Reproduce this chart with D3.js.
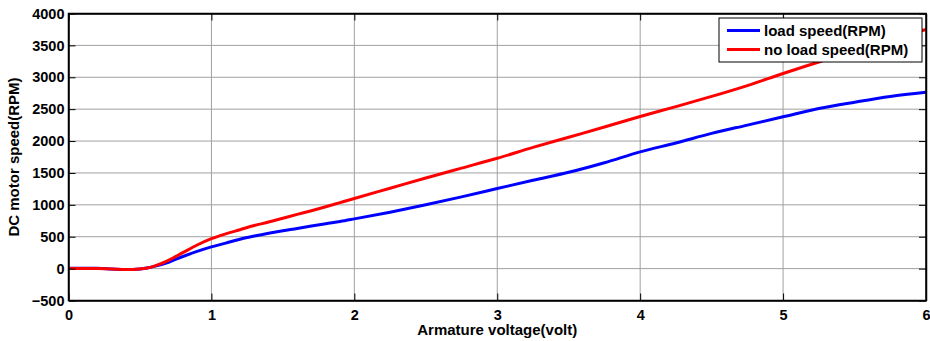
<!DOCTYPE html>
<html>
<head>
<meta charset="utf-8">
<script src="https://cdn.jsdelivr.net/npm/d3@7"></script>
<style>
  html, body { margin: 0; padding: 0; background: #fff; }
  svg text { font-family: "Liberation Sans", Arial, sans-serif; font-weight: bold; fill: #000; }
</style>
</head>
<body>
<div id="wrapper"></div>
<script>
// armature voltage samples (volt)
const voltage = [0, 0.1, 0.2, 0.3, 0.4, 0.5, 0.55, 0.6, 0.7, 0.8, 0.9, 1.0, 1.1, 1.2, 1.3, 1.4, 1.5,
  1.6, 1.7, 1.8, 1.9, 2.0, 2.25, 2.5, 2.75, 3.0, 3.25, 3.5, 3.75, 4.0, 4.25, 4.5, 4.75, 5.0,
  5.25, 5.5, 5.75, 6.0];
const loadSpeed = [5, 5, 5, -5, -15, -5, 10, 35, 100, 190, 270, 340, 400, 460, 510, 555, 595,
  630, 668, 705, 740, 780, 885, 1000, 1125, 1255, 1385, 1510, 1660, 1830, 1970, 2120, 2250, 2380,
  2510, 2610, 2700, 2765];
const noLoadSpeed = [0, 0, 0, -5, -15, -5, 10, 40, 130, 250, 370, 470, 545, 610, 675, 730, 790,
  850, 908, 970, 1035, 1100, 1260, 1420, 1575, 1730, 1900, 2060, 2220, 2385, 2540, 2700, 2870, 3060,
  3240, 3420, 3590, 3750];
const xTicks = [0, 1, 2, 3, 4, 5, 6];
const yTicks = [-500, 0, 500, 1000, 1500, 2000, 2500, 3000, 3500, 4000];
const seriesNames = ["load speed(RPM)", "no load speed(RPM)"];
const seriesColors = ["#0000ff", "#ff0000"];

function drawChart() {
  const dimensions = {
    width: 930,
    height: 341,
    margin: { top: 13.5, right: 4, bottom: 40.5, left: 68.5 },
  };
  dimensions.boundedWidth = dimensions.width - dimensions.margin.left - dimensions.margin.right;
  dimensions.boundedHeight = dimensions.height - dimensions.margin.top - dimensions.margin.bottom;

  const wrapper = d3.select("#wrapper")
    .append("svg")
    .attr("width", dimensions.width)
    .attr("height", dimensions.height);

  const bounds = wrapper.append("g")
    .attr("transform", `translate(${dimensions.margin.left},${dimensions.margin.top})`);

  const xScale = d3.scaleLinear().domain([0, 6]).range([0, dimensions.boundedWidth]);
  const yScale = d3.scaleLinear().domain([-500, 4000]).range([dimensions.boundedHeight, 0]);

  // grid
  bounds.append("g").selectAll("line")
    .data(xTicks.slice(1, -1))
    .join("line")
    .attr("x1", d => xScale(d)).attr("x2", d => xScale(d))
    .attr("y1", 0).attr("y2", dimensions.boundedHeight)
    .attr("stroke", "#a0a0a0").attr("stroke-width", 1);
  bounds.append("g").selectAll("line")
    .data(yTicks.slice(1, -1))
    .join("line")
    .attr("y1", d => yScale(d)).attr("y2", d => yScale(d))
    .attr("x1", 0).attr("x2", dimensions.boundedWidth)
    .attr("stroke", "#a0a0a0").attr("stroke-width", 1);

  // lines
  const lineGen = (values) => d3.line()
    .x((d, i) => xScale(voltage[i]))
    .y(d => yScale(d))
    .curve(d3.curveMonotoneX)(values);

  [loadSpeed, noLoadSpeed].forEach((values, i) => {
    bounds.append("path")
      .attr("d", lineGen(values))
      .attr("fill", "none")
      .attr("stroke", seriesColors[i])
      .attr("stroke-width", 3)
      .attr("stroke-linejoin", "round");
  });

  // axes with inward ticks (MATLAB style)
  const fmt = d3.format("d");
  bounds.append("g")
    .attr("transform", `translate(0,${dimensions.boundedHeight})`)
    .call(d3.axisBottom(xScale).tickValues(xTicks).tickFormat(fmt)
      .tickSizeInner(-7).tickSizeOuter(0).tickPadding(9));
  bounds.append("g")
    .call(d3.axisLeft(yScale).tickValues(yTicks).tickFormat(fmt)
      .tickSizeInner(-7).tickSizeOuter(0).tickPadding(4));
  bounds.append("g")
    .call(d3.axisTop(xScale).tickValues(xTicks).tickSizeInner(-7).tickSizeOuter(0).tickFormat(""));
  bounds.append("g")
    .attr("transform", `translate(${dimensions.boundedWidth},0)`)
    .call(d3.axisRight(yScale).tickValues(yTicks).tickSizeInner(-7).tickSizeOuter(0).tickFormat(""));

  bounds.selectAll(".domain").attr("stroke", "#000").attr("stroke-width", 1.5);
  bounds.selectAll(".tick line").attr("stroke", "#000");
  bounds.selectAll(".tick text").style("font-size", "14.5px");

  bounds.append("rect")
    .attr("width", dimensions.boundedWidth)
    .attr("height", dimensions.boundedHeight)
    .attr("fill", "none")
    .attr("stroke", "#000")
    .attr("stroke-width", 1.5);

  // axis labels
  wrapper.append("text")
    .attr("x", dimensions.margin.left + dimensions.boundedWidth / 2)
    .attr("y", 335)
    .attr("text-anchor", "middle")
    .style("font-size", "15px")
    .text("Armature voltage(volt)");
  wrapper.append("text")
    .attr("transform", `translate(19,${dimensions.margin.top + dimensions.boundedHeight / 2}) rotate(-90)`)
    .attr("text-anchor", "middle")
    .style("font-size", "15px")
    .text("DC motor speed(RPM)");

  // legend
  const legend = wrapper.append("g").attr("transform", "translate(719,18)");
  legend.append("rect")
    .attr("width", 203).attr("height", 44)
    .attr("fill", "#fff").attr("stroke", "#000").attr("stroke-width", 1);
  seriesNames.forEach((name, i) => {
    const y = 12.5 + i * 19;
    legend.append("line")
      .attr("x1", 8).attr("x2", 41).attr("y1", y).attr("y2", y)
      .attr("stroke", seriesColors[i]).attr("stroke-width", 3);
    legend.append("text")
      .attr("x", 45).attr("y", y + 5.5)
      .style("font-size", "15px")
      .text(name);
  });
}
drawChart();
</script>
</body>
</html>
